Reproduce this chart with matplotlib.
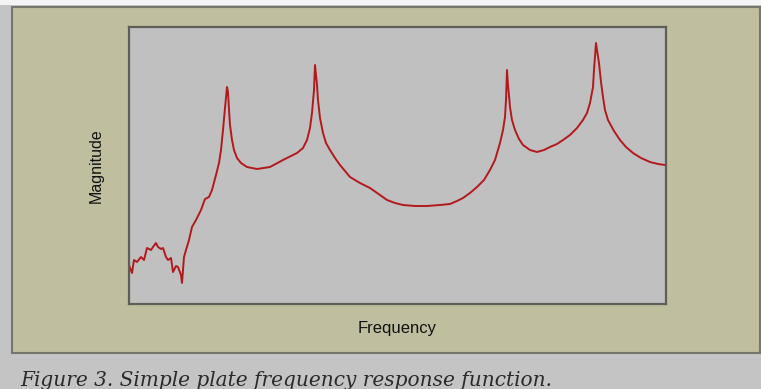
import matplotlib.pyplot as plt
from matplotlib.patches import Rectangle

# frequency (arbitrary units) and magnitude (arbitrary units)
freq = [0, 3, 5, 8, 12, 15, 18, 22, 24, 27, 29, 32, 34, 37, 39, 42, 44, 47, 49, 52, 53,
        55, 57, 60, 63, 67, 72, 76, 80, 83, 87, 90, 92, 94, 96, 98, 99, 100, 101, 103,
        105, 108, 112, 118, 128, 141, 154, 168, 174, 178, 181, 183, 185, 186, 188,
        189, 191, 194, 197, 201, 206, 211, 221, 231, 241, 251, 258, 266, 274, 286,
        298, 311, 321, 328, 334, 341, 348, 355, 361, 366, 371, 374, 376, 377, 378,
        379, 381, 383, 386, 390, 394, 401, 408, 415, 421, 428, 434, 441, 448, 454,
        458, 461, 464, 465, 467, 468, 470, 472, 474, 476, 479, 485, 491, 497, 504,
        512, 521, 529, 536]
mag = [39, 31, 44, 42, 47, 44, 56, 54, 57, 61, 57, 55, 56, 47, 44, 46, 32, 38, 37, 29, 21,
       47, 54, 64, 77, 84, 94, 105, 107, 114, 129, 141, 154, 174, 196, 217, 212, 194,
       179, 164, 154, 146, 141, 137, 135, 137, 144, 151, 156, 164, 176, 191, 214, 239,
       219, 204, 186, 171, 161, 154, 146, 139, 127, 121, 116, 109, 104, 101, 99, 98,
       98, 99, 100, 103, 106, 111, 117, 124, 134, 144, 161, 174, 187, 204, 234, 219,
       197, 184, 174, 165, 159, 154, 152, 154, 157, 160, 164, 169, 176, 184, 191, 201,
       217, 234, 261, 254, 241, 222, 207, 194, 184, 173, 164, 157, 151, 146, 142,
       140, 139]

W, H = 761, 389
fig = plt.figure(figsize=(W / 100, H / 100), dpi=100)
fig.patch.set_facecolor('#c4c4c4')

# white strip at the top and khaki panel
fig.patches.append(Rectangle((0, 1 - 5 / H), 1, 5 / H, transform=fig.transFigure,
                             facecolor='#f4f4f4', edgecolor='none', zorder=-2))
fig.patches.append(Rectangle((12 / W, 1 - 353 / H), 748 / W, 346 / H,
                             transform=fig.transFigure, facecolor='#bfbf9f',
                             edgecolor='#76766a', linewidth=1.5, zorder=-1))

ax = fig.add_axes([129 / W, 1 - 304 / H, 537 / W, 277 / H])
ax.set_zorder(2)
ax.set_facecolor('#c0c0c0')
ax.plot(freq, mag, color='#b3191c', linewidth=1.4)
ax.set_xlim(0, 537)
ax.set_ylim(0, 277)
ax.set_xticks([])
ax.set_yticks([])
for s in ax.spines.values():
    s.set_color('#5e5e58')
    s.set_linewidth(1.6)

ax.set_xlabel('Frequency', family='Liberation Sans', fontsize=12, color='#111111',
              labelpad=12)
ax.set_ylabel('Magnitude', family='Liberation Sans', fontsize=11.5, color='#111111',
              labelpad=18)

fig.text(20 / W, 3 / H, 'Figure 3. Simple plate frequency response function.',
         family='DejaVu Serif', style='italic', fontsize=14.5, color='#2a2a2a',
         va='baseline', ha='left')

fig.savefig('out.png', dpi=100, facecolor=fig.get_facecolor())
